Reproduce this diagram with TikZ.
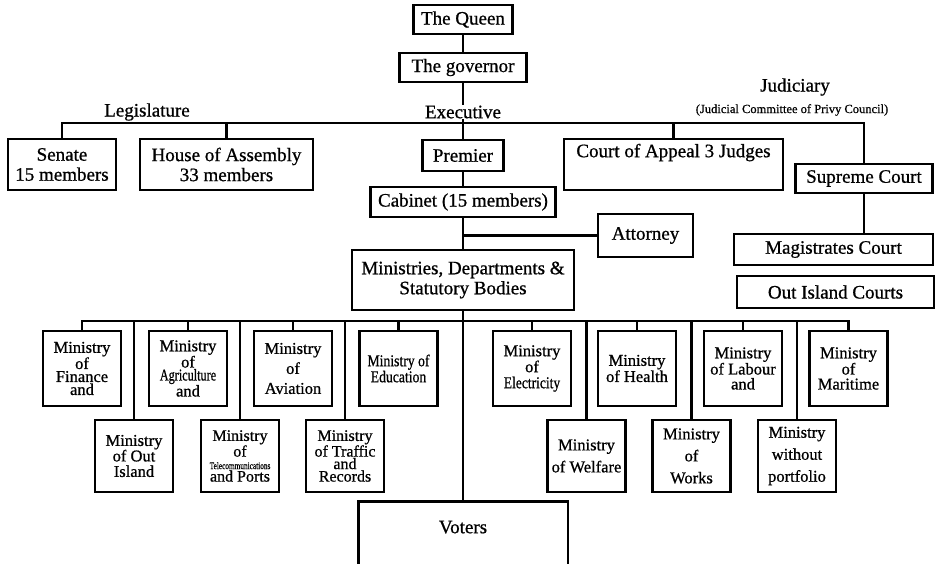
\documentclass[tikz,border=0pt]{standalone}
\usepackage{fontspec}
\setmainfont{Liberation Serif}[FakeBold=0.8]
\usepackage{graphicx}
\begin{document}
\begin{tikzpicture}[x=1pt,y=-1pt, line width=2.6pt,
  box/.style={draw, line width=2.6pt, inner sep=0pt, align=center, font=\fontsize{19}{20}\selectfont},
  mbox/.style={box, minimum width=78, font=\fontsize{16.5}{15}\selectfont},
  toprow/.style={mbox, minimum height=75},
  botrow/.style={mbox, minimum height=72},
  lbl/.style={font=\fontsize{19}{20}\selectfont, inner sep=1pt}]
\useasboundingbox (0,0) rectangle (936,564);

% upper part
\node[box, minimum width=99, minimum height=29] (queen) at (463,19.5) {The Queen};
\node[box, minimum width=127, minimum height=29] (gov) at (463,67.5) {The governor};
\node[box, minimum width=108, minimum height=51] (senate) at (62,164.5) {Senate\\15 members};
\node[box, minimum width=173, minimum height=51] (house) at (226.5,164.5) {House of Assembly\\33 members};
\node[box, minimum width=81, minimum height=31] (premier) at (463,155.5) {Premier};
\node[box, minimum width=219, minimum height=51, text depth=28pt] (appeal) at (673.5,164.5) {Court of Appeal 3 Judges};
\node[box, minimum width=137, minimum height=29] (supreme) at (864,178.5) {Supreme Court};
\node[box, minimum width=199, minimum height=31] (magis) at (833.5,249.5) {Magistrates Court};
\node[box, minimum width=197, minimum height=32] (outc) at (835.5,292) {Out Island Courts};
\node[box, minimum width=185, minimum height=30] (cabinet) at (463,202) {Cabinet (15 members)};
\node[box, minimum width=95, minimum height=43] (attorney) at (645.5,235.5) {Attorney};
\node[box, minimum width=222, minimum height=60] (mdsb) at (463,280) {Ministries, Departments \&\\Statutory Bodies};

% ministries, top row
\node[toprow, font=\fontsize{16.5}{13}\selectfont] (fin) at (82,368.5) {Ministry\\of\\Finance\\and};
\node[toprow, font=\fontsize{16.5}{13}\selectfont] (agri) at (188,368.5) {Ministry\\of\\\scalebox{0.74}[1]{Agriculture}\\and};
\node[toprow, font=\fontsize{16.5}{20}\selectfont] (avi) at (293,368.5) {Ministry\\of\\Aviation};
\node[toprow, font=\fontsize{16.5}{16}\selectfont] (edu) at (398.5,368.5) {\scalebox{0.83}[1]{Ministry of}\\\scalebox{0.83}[1]{Education}};
\node[toprow, font=\fontsize{16.5}{16}\selectfont] (elec) at (532,368.5) {Ministry\\of\\\scalebox{0.82}[1]{Electricity}};
\node[toprow, font=\fontsize{16.5}{13}\selectfont] (health) at (637,368.5) {Ministry\\of Health};
\node[toprow, font=\fontsize{16.5}{15}\selectfont] (labour) at (743,368.5) {Ministry\\of Labour\\and};
\node[toprow, font=\fontsize{16.5}{15}\selectfont] (mari) at (848.5,368.5) {Ministry\\of\\Maritime};

% ministries, bottom row
\node[botrow, font=\fontsize{16.5}{15.5}\selectfont] (outi) at (134,456) {Ministry\\of Out\\Island};
\node[botrow, font=\fontsize{16}{12.5}\selectfont] (tele) at (240,456) {Ministry\\of\\{\fontsize{10}{10}\selectfont\scalebox{0.73}[1]{Telecommunications}}\\and Ports};
\node[botrow, font=\fontsize{16}{12.5}\selectfont] (traf) at (345,456) {Ministry\\of Traffic\\and\\Records};
\node[botrow, font=\fontsize{16.5}{22}\selectfont] (welf) at (586.5,456) {Ministry\\of Welfare};
\node[botrow, font=\fontsize{16.5}{22}\selectfont] (works) at (691.5,456) {Ministry\\of\\Works};
\node[botrow, font=\fontsize{16.5}{22}\selectfont] (without) at (797,456) {Ministry\\without\\portfolio};

% voters (open at the bottom)
\node[inner sep=0pt, minimum width=207, minimum height=61, text depth=13pt, font=\fontsize{19}{20}\selectfont] (voters) at (463,533.5) {Voters};
\draw (voters.south west) -- (voters.north west) -- (voters.north east) -- (voters.south east);

% connectors
\coordinate (j1) at (463,123);
\coordinate (j2) at (463,321);
\draw (queen) -- (gov);
\draw (gov) -- (premier);
\draw (senate.north) |- (j1) -| (supreme.north);
\draw (house.north) -- (house.north |- j1);
\draw (appeal.north) -- (appeal.north |- j1);
\draw (supreme.south) -- (supreme.south |- magis.north);
\draw (premier) -- (cabinet);
\draw (cabinet) -- (mdsb);
\draw (cabinet.south |- attorney.west) -- (attorney.west);
\draw (mdsb.south) -- (voters.north);
\draw (fin.north) |- (j2) -| (mari.north);
\foreach \n in {agri,avi,edu,elec,health,labour,outi,tele,traf,welf,works,without}
  \draw (\n.north) -- (\n.north |- j2);

% branch labels
\node[lbl] (legis) at (147,112) {Legislature};
\node[lbl, fill=white] (exec) at (463,112) {Executive};
\node[lbl] (judic) at (795,87) {Judiciary};
\node[font=\fontsize{12.5}{13}\selectfont, inner sep=1pt] (jcpc) at (792,110) {(Judicial Committee of Privy Council)};
\end{tikzpicture}
\end{document}
